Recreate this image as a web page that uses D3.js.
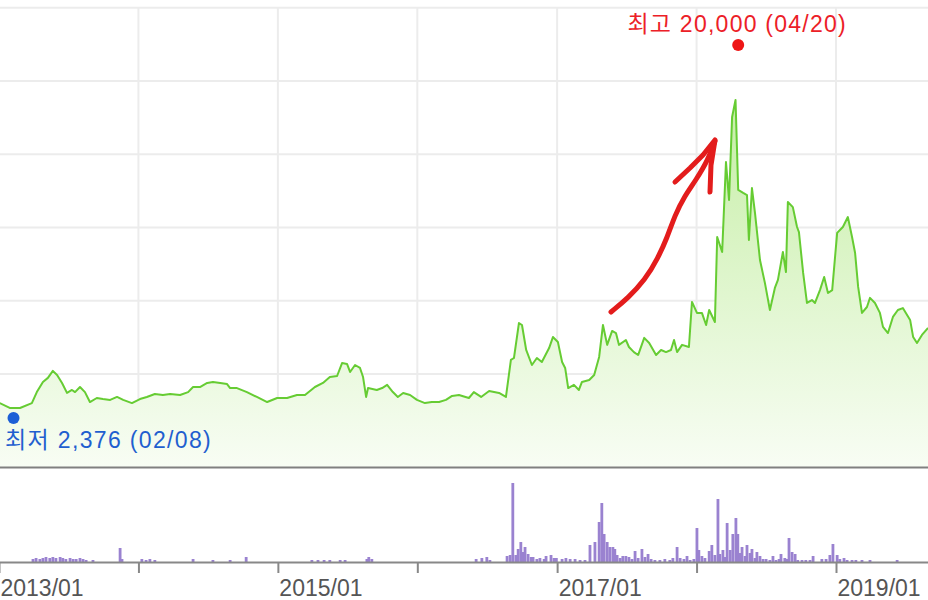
<!DOCTYPE html>
<html>
<head>
<meta charset="utf-8">
<script src="https://cdn.jsdelivr.net/npm/d3@7"></script>
<style>
  body { margin: 0; background: #fff; }
  svg { display: block; }
</style>
</head>
<body>
<script>
// weekly-ish closing prices
var priceDates = [
  "2013-01-03","2013-01-29","2013-02-25","2013-03-28","2013-04-10","2013-04-26","2013-05-09","2013-05-22",
  "2013-06-02","2013-06-15","2013-06-28","2013-07-11","2013-07-19","2013-08-01","2013-08-14","2013-08-27",
  "2013-09-14","2013-09-30","2013-10-19","2013-11-06","2013-11-22","2013-12-15","2014-01-05","2014-01-23",
  "2014-02-13","2014-03-06","2014-03-25","2014-04-20","2014-05-11","2014-05-24","2014-06-11","2014-06-30",
  "2014-07-15","2014-08-03","2014-08-21","2014-08-29","2014-09-16","2014-10-12","2014-11-07","2014-12-04",
  "2014-12-30","2015-01-25","2015-02-20","2015-03-13","2015-04-08","2015-04-29","2015-05-17","2015-06-05",
  "2015-06-18","2015-07-01","2015-07-09","2015-07-22","2015-08-04","2015-08-12","2015-08-20","2015-08-25",
  "2015-09-17","2015-10-01","2015-10-14","2015-10-29","2015-11-11","2015-11-25","2015-12-13","2015-12-31",
  "2016-01-21","2016-02-08","2016-02-27","2016-03-16","2016-04-01","2016-04-19","2016-05-15","2016-05-28",
  "2016-06-16","2016-07-07","2016-08-02","2016-08-20","2016-09-02","2016-09-10","2016-09-23","2016-10-01",
  "2016-10-12","2016-10-27","2016-11-09","2016-11-22","2016-12-11","2016-12-21","2017-01-03","2017-01-14",
  "2017-01-22","2017-01-30","2017-02-14","2017-02-27","2017-03-07","2017-03-26","2017-04-08","2017-04-21",
  "2017-05-01","2017-05-12","2017-05-25","2017-06-04","2017-06-12","2017-06-30","2017-07-08","2017-07-21",
  "2017-08-01","2017-08-17","2017-08-30","2017-09-17","2017-09-30","2017-10-13","2017-10-26","2017-11-03",
  "2017-11-11","2017-11-24","2017-12-12","2017-12-20","2018-01-02","2018-01-15","2018-01-26","2018-02-03",
  "2018-02-18","2018-02-24","2018-03-09","2018-03-19","2018-03-27","2018-04-04","2018-04-13","2018-04-20",
  "2018-05-03","2018-05-13","2018-05-18","2018-05-26","2018-06-03","2018-06-16","2018-06-29","2018-07-12",
  "2018-07-25","2018-08-02","2018-08-15","2018-08-23","2018-08-28","2018-09-10","2018-09-21","2018-09-26",
  "2018-10-07","2018-10-17","2018-10-30","2018-11-07","2018-11-20","2018-12-01","2018-12-11","2018-12-22",
  "2019-01-04","2019-01-19","2019-02-01","2019-02-12","2019-02-20","2019-02-28","2019-03-10","2019-03-23",
  "2019-03-31","2019-04-13","2019-04-26","2019-05-04","2019-05-17","2019-05-30","2019-06-12","2019-06-25",
  "2019-07-14","2019-07-22","2019-08-01","2019-08-14","2019-08-30"
];
var priceValues = [
  3080,2850,2850,3080,3600,4080,4270,4600,
  4410,4030,3560,3700,3600,3840,3600,3130,
  3320,3270,3230,3370,3230,3080,3270,3370,
  3510,3460,3510,3460,3600,3840,3840,4030,
  4080,4030,3980,3790,3790,3600,3370,3130,
  3320,3320,3460,3460,3840,4030,4310,4360,
  4970,4930,4550,4880,4740,4310,3370,3790,
  3700,3790,3940,3600,3370,3560,3460,3230,
  3080,3130,3130,3230,3420,3460,3320,3600,
  3370,3650,3560,3370,5120,5210,6860,6770,
  5590,4880,5210,5020,5680,6200,5970,5020,
  4740,3790,3940,3700,4080,4170,4410,5260,
  6770,5830,6490,6390,5830,6060,5730,5490,
  5350,6160,5920,5350,5590,5490,5590,6060,
  5490,5830,5730,7860,7340,7340,6770,7480,
  6910,10930,10220,14470,12680,16600,17400,13150,
  13010,12910,10790,13240,12060,9840,8750,7480,
  8520,8900,10220,9270,12580,12340,11400,11160,
  9230,7810,7950,7810,8420,9040,8280,8420,
  11120,11400,11870,10930,10170,8570,7340,7620,
  8050,7810,7340,6680,6390,7150,7480,7570,
  7010,6200,5920,6300,6630
];

// trading volume (thousand shares)
var volDates = [
  "2013-03-31","2013-04-08","2013-04-18","2013-04-26","2013-05-04","2013-05-14","2013-05-22","2013-05-30",
  "2013-06-10","2013-06-17","2013-06-25","2013-07-06","2013-07-14","2013-07-22","2013-08-01","2013-08-09",
  "2013-08-17","2013-09-04","2013-11-14","2013-11-19","2014-01-10","2014-01-21","2014-01-31","2014-02-13",
  "2014-05-24","2014-07-15","2014-08-29","2014-10-10","2015-03-31","2015-04-16","2015-05-02","2015-05-17",
  "2015-06-13","2015-06-26","2015-08-22","2015-08-27","2015-09-04","2016-06-03","2016-06-18","2016-07-01",
  "2016-07-09","2016-08-23","2016-08-31","2016-09-07","2016-09-15","2016-09-21","2016-09-28","2016-10-04",
  "2016-10-09","2016-10-17","2016-10-25","2016-10-30","2016-11-09","2016-11-17","2016-11-28","2016-12-03",
  "2016-12-16","2016-12-24","2016-12-30","2017-01-14","2017-01-24","2017-02-04","2017-02-17","2017-03-02",
  "2017-03-15","2017-03-28","2017-04-10","2017-04-21","2017-04-28","2017-05-04","2017-05-12","2017-05-19",
  "2017-05-27","2017-06-01","2017-06-07","2017-06-15","2017-06-22","2017-06-30","2017-07-08","2017-07-16",
  "2017-07-24","2017-08-01","2017-08-11","2017-08-19","2017-08-27","2017-09-04","2017-09-14","2017-09-27",
  "2017-10-10","2017-10-23","2017-10-31","2017-11-11","2017-11-19","2017-11-29","2017-12-07","2017-12-15",
  "2017-12-25","2018-01-02","2018-01-07","2018-01-15","2018-01-23","2018-02-03","2018-02-10","2018-02-18",
  "2018-02-26","2018-03-03","2018-03-11","2018-03-16","2018-03-22","2018-03-30","2018-04-06","2018-04-14",
  "2018-04-19","2018-04-25","2018-04-30","2018-05-08","2018-05-13","2018-05-21","2018-05-26","2018-06-03",
  "2018-06-08","2018-06-16","2018-06-24","2018-07-02","2018-07-12","2018-07-20","2018-07-28","2018-08-05",
  "2018-08-10","2018-08-20","2018-08-26","2018-08-31","2018-09-08","2018-09-16","2018-09-23","2018-10-04",
  "2018-10-14","2018-10-25","2018-11-02","2018-11-25","2018-12-06","2018-12-16","2018-12-24","2019-01-04",
  "2019-01-11","2019-01-22","2019-01-30","2019-02-12","2019-02-22","2019-03-10","2019-03-31","2019-06-10",
  "2019-06-25","2019-08-04"
];
var volValues = [
  300,400,300,400,500,400,500,400,
  500,400,300,400,300,300,400,300,
  200,200,1400,300,300,200,300,200,
  300,200,200,500,200,200,200,200,
  200,200,300,500,300,300,400,500,
  200,600,700,7900,700,1300,2000,1000,
  1500,800,500,500,300,400,300,600,
  700,400,400,300,400,300,300,200,
  200,1700,2000,4000,5900,2800,2000,1500,
  1500,1300,700,400,600,600,500,300,
  1100,400,1300,500,800,300,200,200,
  300,200,400,1500,400,300,600,200,
  300,3400,1200,600,400,1100,1700,700,
  6300,800,1200,500,3900,1200,2800,4400,
  2800,900,1500,600,1700,900,1300,400,
  1000,600,300,300,200,600,200,300,
  800,400,300,2400,1000,800,200,200,
  200,200,600,300,300,700,1800,700,
  300,400,200,200,200,200,200,200
];

// gridlines and axis labels
var gridPrices = [1000, 4460, 7920, 11380, 14840, 18300, 21760];
var yearTicks = ["2013-01-01","2014-01-01","2015-01-01","2016-01-01","2017-01-01","2018-01-01","2019-01-01"];
var tickLabels = ["2013/01", "", "2015/01", "", "2017/01", "", "2019/01"];

// high / low markers
var highMark = {date: "2018-04-20", value: 20000, label: "최고 20,000 (04/20)"};
var lowMark = {date: "2013-02-08", value: 2376, label: "최저 2,376 (02/08)"};

var W = 928, H = 600;
var parse = d3.timeParse("%Y-%m-%d");

var prices = priceDates.map(function(d, i) { return {date: parse(d), value: priceValues[i]}; });
var volume = volDates.map(function(d, i) { return {date: parse(d), value: volValues[i]}; });

var x = d3.scaleTime()
    .domain([parse("2013-01-01"), parse("2019-01-01")])
    .range([-1, 836]);

var y = d3.scaleLinear()
    .domain([60, 21748])
    .range([467, 8]);

var yv = d3.scaleLinear()
    .domain([0, 9500])
    .range([562, 467]);

var svg = d3.select("body").append("svg")
    .attr("width", W)
    .attr("height", H);

var grad = svg.append("defs").append("linearGradient")
    .attr("id", "fill")
    .attr("gradientUnits", "userSpaceOnUse")
    .attr("x1", 0).attr("y1", 100)
    .attr("x2", 0).attr("y2", 467);
grad.append("stop").attr("offset", 0).attr("stop-color", "#c6eea6");
grad.append("stop").attr("offset", 1).attr("stop-color", "#f8fdf4");

// grid
svg.append("g").selectAll("line")
  .data(gridPrices)
  .enter().append("line")
    .attr("x1", 0).attr("x2", W)
    .attr("y1", function(d) { return y(d); })
    .attr("y2", function(d) { return y(d); })
    .attr("stroke", "#ececec")
    .attr("stroke-width", 2);

svg.append("g").selectAll("line")
  .data(yearTicks.slice(1))
  .enter().append("line")
    .attr("x1", function(d) { return x(parse(d)); })
    .attr("x2", function(d) { return x(parse(d)); })
    .attr("y1", y(gridPrices[gridPrices.length - 1]))
    .attr("y2", 467)
    .attr("stroke", "#ececec")
    .attr("stroke-width", 2);

// price area + line
var area = d3.area()
    .x(function(d) { return x(d.date); })
    .y0(467)
    .y1(function(d) { return y(d.value); });

var line = d3.line()
    .x(function(d) { return x(d.date); })
    .y(function(d) { return y(d.value); });

svg.append("path")
    .datum(prices)
    .attr("fill", "url(#fill)")
    .attr("d", area);

svg.append("path")
    .datum(prices)
    .attr("fill", "none")
    .attr("stroke", "#66cc33")
    .attr("stroke-width", 2)
    .attr("stroke-linejoin", "round")
    .attr("d", line);

// panel borders
svg.append("line")
    .attr("x1", 0).attr("x2", W)
    .attr("y1", 467.5).attr("y2", 467.5)
    .attr("stroke", "#808080")
    .attr("stroke-width", 2);

// volume bars
svg.append("g").selectAll("rect")
  .data(volume)
  .enter().append("rect")
    .attr("x", function(d) { return x(d.date) - 1.4; })
    .attr("width", 2.8)
    .attr("y", function(d) { return yv(d.value); })
    .attr("height", function(d) { return yv(0) - yv(d.value); })
    .attr("fill", "#9a82d0");

svg.append("line")
    .attr("x1", 0).attr("x2", W)
    .attr("y1", 562.5).attr("y2", 562.5)
    .attr("stroke", "#888")
    .attr("stroke-width", 2);

// time axis
var axis = svg.append("g")
    .attr("transform", "translate(0,563)")
    .call(d3.axisBottom(x)
      .tickValues(yearTicks.map(parse))
      .tickSize(10)
      .tickFormat(function(d, i) { return tickLabels[i]; }));

axis.select(".domain").remove();
axis.selectAll(".tick line")
    .attr("stroke", "#888")
    .attr("stroke-width", 2);
axis.selectAll(".tick text")
    .attr("text-anchor", "start")
    .attr("x", 1)
    .attr("y", 17)
    .attr("fill", "#555")
    .style("font-family", "'Liberation Sans', Arial, sans-serif")
    .style("font-size", "23px");

// hand-drawn red arrow annotation
var scribble = d3.line().curve(d3.curveBasis);
svg.append("path")
    .attr("d", scribble([[611,312],[628,298],[645,280],[658,258],[667,238],[675,215],[684,197],[696,180],[708,160],[715,141]]))
    .attr("fill", "none")
    .attr("stroke", "#e31c1c")
    .attr("stroke-width", 5)
    .attr("stroke-linecap", "round");
svg.append("path")
    .attr("d", d3.line()([[675,182],[690,168],[703,155],[715,140],[711,165],[710,192]]))
    .attr("fill", "none")
    .attr("stroke", "#e31c1c")
    .attr("stroke-width", 5)
    .attr("stroke-linecap", "round")
    .attr("stroke-linejoin", "round");

// high / low markers
var labelFont = "'Liberation Sans', 'Noto Sans CJK KR', sans-serif";

svg.append("circle")
    .attr("cx", x(parse(highMark.date)))
    .attr("cy", y(highMark.value))
    .attr("r", 6)
    .attr("fill", "#ee1515");
svg.append("text")
    .attr("x", x(parse(highMark.date)) - 1)
    .attr("y", 32)
    .attr("text-anchor", "middle")
    .attr("fill", "#ec2027")
    .style("font-family", labelFont)
    .style("font-size", "23px")
    .style("letter-spacing", "1.25px")
    .text(highMark.label);

svg.append("circle")
    .attr("cx", x(parse(lowMark.date)))
    .attr("cy", y(lowMark.value))
    .attr("r", 6)
    .attr("fill", "#1c5fd6");
svg.append("text")
    .attr("x", 5)
    .attr("y", 448)
    .attr("fill", "#1f5fcf")
    .style("font-family", labelFont)
    .style("font-size", "23px")
    .style("letter-spacing", "1.35px")
    .text(lowMark.label);
</script>
</body>
</html>
